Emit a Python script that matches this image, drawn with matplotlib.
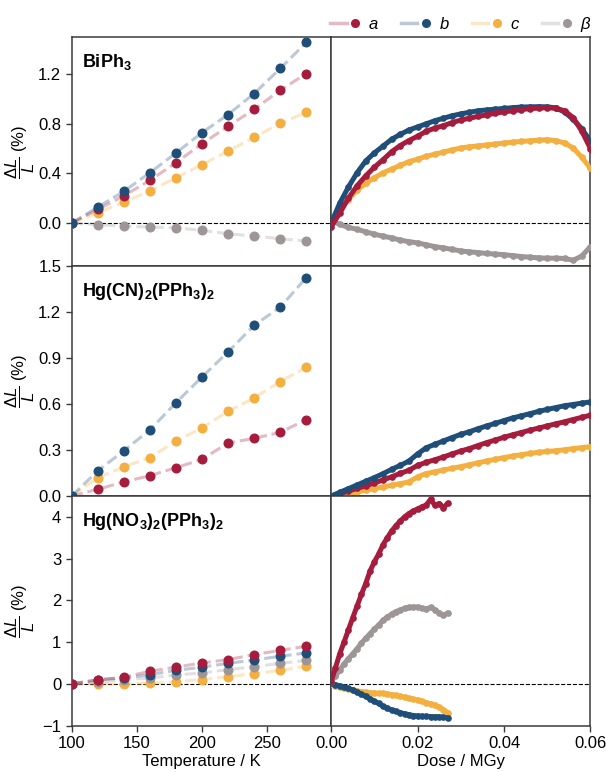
"""Thermal expansion and dose-induced strain of three triphenyl metal crystals."""

import matplotlib

matplotlib.use("Agg")
import matplotlib.pyplot as plt
import numpy as np
from matplotlib.legend_handler import HandlerTuple
from matplotlib.lines import Line2D

plt.rcParams["font.family"] = ["Liberation Sans", "DejaVu Sans"]
plt.rcParams["mathtext.fontset"] = "custom"
plt.rcParams["mathtext.rm"] = "Liberation Sans"
plt.rcParams["mathtext.it"] = "Liberation Sans:italic"
plt.rcParams["mathtext.bf"] = "Liberation Sans:bold"
plt.rcParams["font.size"] = 12

COLORS = {"a": "#A51C3C", "b": "#1F4E79", "c": "#F4AF41", "beta": "#9E9696"}
LABELS = {"a": r"$a$", "b": r"$b$", "c": r"$c$", "beta": r"$\beta$"}
SPINE = "#3a3a3a"

# temperature series (K) -> relative change in %
temperature = [100, 120, 140, 160, 180, 200, 220, 240, 260, 280]

biph3_temp = {
    "beta": [0.0, -0.013, -0.024, -0.032, -0.038, -0.059, -0.086, -0.105, -0.126, -0.145],
    "c": [0.0, 0.083, 0.170, 0.258, 0.366, 0.471, 0.581, 0.691, 0.804, 0.893],
    "a": [0.0, 0.110, 0.220, 0.344, 0.487, 0.640, 0.780, 0.917, 1.071, 1.205],
    "b": [0.0, 0.129, 0.255, 0.406, 0.565, 0.729, 0.875, 1.044, 1.246, 1.456],
}

hgcn_temp = {
    "a": [0.0, 0.044, 0.092, 0.133, 0.185, 0.240, 0.347, 0.377, 0.416, 0.499],
    "c": [0.0, 0.120, 0.190, 0.251, 0.360, 0.445, 0.554, 0.641, 0.748, 0.842],
    "b": [0.0, 0.164, 0.296, 0.432, 0.610, 0.778, 0.942, 1.116, 1.234, 1.428],
}

hgno3_temp = {
    "c": [0.0, -0.01, 0.0, 0.01, 0.05, 0.10, 0.17, 0.24, 0.32, 0.42],
    "beta": [0.0, 0.04, 0.10, 0.14, 0.21, 0.26, 0.34, 0.41, 0.49, 0.56],
    "b": [0.0, 0.10, 0.14, 0.22, 0.32, 0.40, 0.49, 0.57, 0.66, 0.74],
    "a": [0.0, 0.09, 0.16, 0.30, 0.40, 0.50, 0.58, 0.70, 0.80, 0.90],
}

# dose series (MGy) -> relative change in %
dose_long = np.linspace(0.0, 0.06, 31)
dose_short = np.linspace(0.0, 0.027, 28)

biph3_dose = {
    "beta": [0.02, -0.01, -0.035, -0.05, -0.07, -0.09, -0.105, -0.12, -0.137, -0.15,
             -0.16, -0.175, -0.19, -0.20, -0.212, -0.225, -0.232, -0.238, -0.245, -0.25,
             -0.255, -0.262, -0.27, -0.275, -0.28, -0.283, -0.283, -0.285, -0.30, -0.265, -0.19],
    "c": [0.0, 0.11, 0.19, 0.265, 0.32, 0.365, 0.405, 0.435, 0.465, 0.495,
          0.515, 0.538, 0.555, 0.572, 0.59, 0.605, 0.615, 0.622, 0.63, 0.637,
          0.645, 0.652, 0.658, 0.663, 0.668, 0.672, 0.665, 0.645, 0.605, 0.53, 0.44],
    "b": [0.0, 0.16, 0.29, 0.405, 0.50, 0.565, 0.62, 0.675, 0.715, 0.75,
          0.775, 0.80, 0.825, 0.845, 0.865, 0.88, 0.893, 0.905, 0.912, 0.918,
          0.924, 0.93, 0.935, 0.937, 0.938, 0.937, 0.928, 0.895, 0.835, 0.76, 0.66],
    "a": [-0.03, 0.08, 0.20, 0.30, 0.38, 0.45, 0.51, 0.575, 0.625, 0.665,
          0.70, 0.74, 0.765, 0.785, 0.81, 0.83, 0.845, 0.86, 0.872, 0.885,
          0.897, 0.905, 0.915, 0.922, 0.927, 0.93, 0.925, 0.905, 0.85, 0.74, 0.60],
}

hgcn_dose = {
    "c": [0.0, 0.008, 0.017, 0.027, 0.037, 0.048, 0.059, 0.07, 0.081, 0.092,
          0.125, 0.147, 0.158, 0.17, 0.181, 0.192, 0.204, 0.217, 0.229, 0.24,
          0.251, 0.261, 0.27, 0.278, 0.286, 0.291, 0.296, 0.302, 0.31, 0.316, 0.323],
    "a": [0.0, 0.015, 0.032, 0.05, 0.066, 0.085, 0.105, 0.125, 0.148, 0.168,
          0.20, 0.22, 0.237, 0.255, 0.275, 0.294, 0.31, 0.33, 0.349, 0.366,
          0.384, 0.40, 0.415, 0.43, 0.444, 0.458, 0.472, 0.485, 0.50, 0.514, 0.528],
    "b": [0.0, 0.024, 0.048, 0.072, 0.096, 0.12, 0.146, 0.174, 0.20, 0.228,
          0.275, 0.315, 0.338, 0.36, 0.382, 0.403, 0.42, 0.44, 0.458, 0.475,
          0.493, 0.51, 0.524, 0.538, 0.553, 0.566, 0.578, 0.59, 0.598, 0.607, 0.615],
}

hgno3_dose = {
    "c": [0.0, -0.05, -0.08, -0.11, -0.13, -0.15, -0.17, -0.19, -0.20, -0.22,
          -0.22, -0.23, -0.23, -0.24, -0.26, -0.28, -0.30, -0.32, -0.35, -0.37,
          -0.39, -0.42, -0.45, -0.48, -0.52, -0.56, -0.62, -0.69],
    "b": [0.02, -0.02, -0.05, -0.08, -0.11, -0.15, -0.20, -0.25, -0.30, -0.36,
          -0.42, -0.47, -0.54, -0.58, -0.63, -0.66, -0.69, -0.72, -0.74, -0.76,
          -0.77, -0.78, -0.78, -0.785, -0.79, -0.79, -0.80, -0.82],
    "beta": [0.05, 0.18, 0.33, 0.48, 0.60, 0.72, 0.84, 0.97, 1.09, 1.20,
             1.31, 1.41, 1.52, 1.60, 1.67, 1.73, 1.77, 1.81, 1.83, 1.84,
             1.84, 1.81, 1.79, 1.83, 1.77, 1.70, 1.64, 1.70],
    "a": [0.05, 0.38, 0.72, 1.00, 1.29, 1.58, 1.86, 2.14, 2.40, 2.70,
          2.92, 3.11, 3.33, 3.50, 3.66, 3.79, 3.90, 4.00, 4.08, 4.14,
          4.19, 4.24, 4.28, 4.42, 4.28, 4.32, 4.22, 4.33],
}

titles = [
    r"$\mathbf{BiPh_3}$",
    r"$\mathbf{Hg(CN)_2(PPh_3)_2}$",
    r"$\mathbf{Hg(NO_3)_2(PPh_3)_2}$",
]
ylims = [(-0.35, 1.5), (0.0, 1.5), (-1.0, 4.5)]
yticks = [[0.0, 0.4, 0.8, 1.2], [0.0, 0.3, 0.6, 0.9, 1.2, 1.5], [-1, 0, 1, 2, 3, 4]]
yfmt = ["{:.1f}", "{:.1f}", "{:.0f}"]


def style_axis(ax):
    for spine in ax.spines.values():
        spine.set_color(SPINE)
        spine.set_linewidth(1.1)
    ax.tick_params(direction="out", length=4, width=1, color=SPINE, labelsize=12)


def draw_temperature(ax, series):
    for key, values in series.items():
        ax.plot(temperature, values, ls="--", lw=2.2, color=COLORS[key], alpha=0.3, zorder=2)
        ax.plot(temperature, values, ls="none", marker="o", ms=6.2, color=COLORS[key], zorder=3)


def draw_dose(ax, dose, series):
    for key, values in series.items():
        ax.plot(dose, values, ls="-", lw=3.6, color=COLORS[key], marker="o", ms=3.8,
                solid_capstyle="round", zorder=3)


fig = plt.figure(figsize=(6.06, 7.72), dpi=100)
gs = fig.add_gridspec(3, 2, left=0.1183, right=0.9744, top=0.9521, bottom=0.0602,
                      wspace=0, hspace=0)

temp_sets = [biph3_temp, hgcn_temp, hgno3_temp]
dose_sets = [(dose_long, biph3_dose), (dose_long, hgcn_dose), (dose_short, hgno3_dose)]

right_axes = []
for row in range(3):
    ax_t = fig.add_subplot(gs[row, 0])
    ax_d = fig.add_subplot(gs[row, 1], sharey=ax_t)
    right_axes.append(ax_d)
    for ax in (ax_t, ax_d):
        style_axis(ax)
        ax.axhline(0, color="k", ls="--", lw=0.8, zorder=1)

    draw_temperature(ax_t, temp_sets[row])
    draw_dose(ax_d, *dose_sets[row])

    ax_t.set_xlim(100, 299)
    ax_d.set_xlim(0, 0.06)
    ax_t.set_ylim(*ylims[row])
    ax_t.set_yticks(yticks[row])
    ax_t.set_yticklabels([yfmt[row].format(v).replace("-", "\u2212") for v in yticks[row]])
    ax_d.tick_params(axis="y", left=False, labelleft=False)

    ax_t.set_ylabel(r"$\dfrac{\Delta L}{L}$ (%)", fontsize=12)
    ax_t.yaxis.set_label_coords(-0.132, 0.5)
    ax_t.text(0.04, 0.935, titles[row], transform=ax_t.transAxes, fontsize=13,
              ha="left", va="top")

    if row < 2:
        ax_t.tick_params(axis="x", bottom=False, labelbottom=False)
        ax_d.tick_params(axis="x", bottom=False, labelbottom=False)
    else:
        ax_t.set_xticks([100, 150, 200, 250])
        ax_d.set_xticks([0.0, 0.02, 0.04, 0.06])
        ax_d.set_xticklabels(["0.00", "0.02", "0.04", "0.06"])
        ax_t.set_xlabel("Temperature / K", fontsize=12, labelpad=2)
        ax_d.set_xlabel("Dose / MGy", fontsize=12, labelpad=2)

handles = []
for key in ["a", "b", "c", "beta"]:
    line = Line2D([], [], color=COLORS[key], lw=2.5, alpha=0.3)
    dot = Line2D([], [], color=COLORS[key], ls="none", marker="o", ms=5.5)
    handles.append((line, dot))

right_axes[0].legend(
    handles,
    [LABELS[k] for k in ["a", "b", "c", "beta"]],
    handler_map={tuple: HandlerTuple(ndivide=None, pad=0)},
    loc="lower center",
    bbox_to_anchor=(0.5, 0.985),
    ncol=4,
    frameon=False,
    fontsize=12,
    handlelength=2.0,
    handletextpad=0.3,
    columnspacing=1.3,
    borderaxespad=0.0,
)

fig.savefig("out.png", dpi=100)
